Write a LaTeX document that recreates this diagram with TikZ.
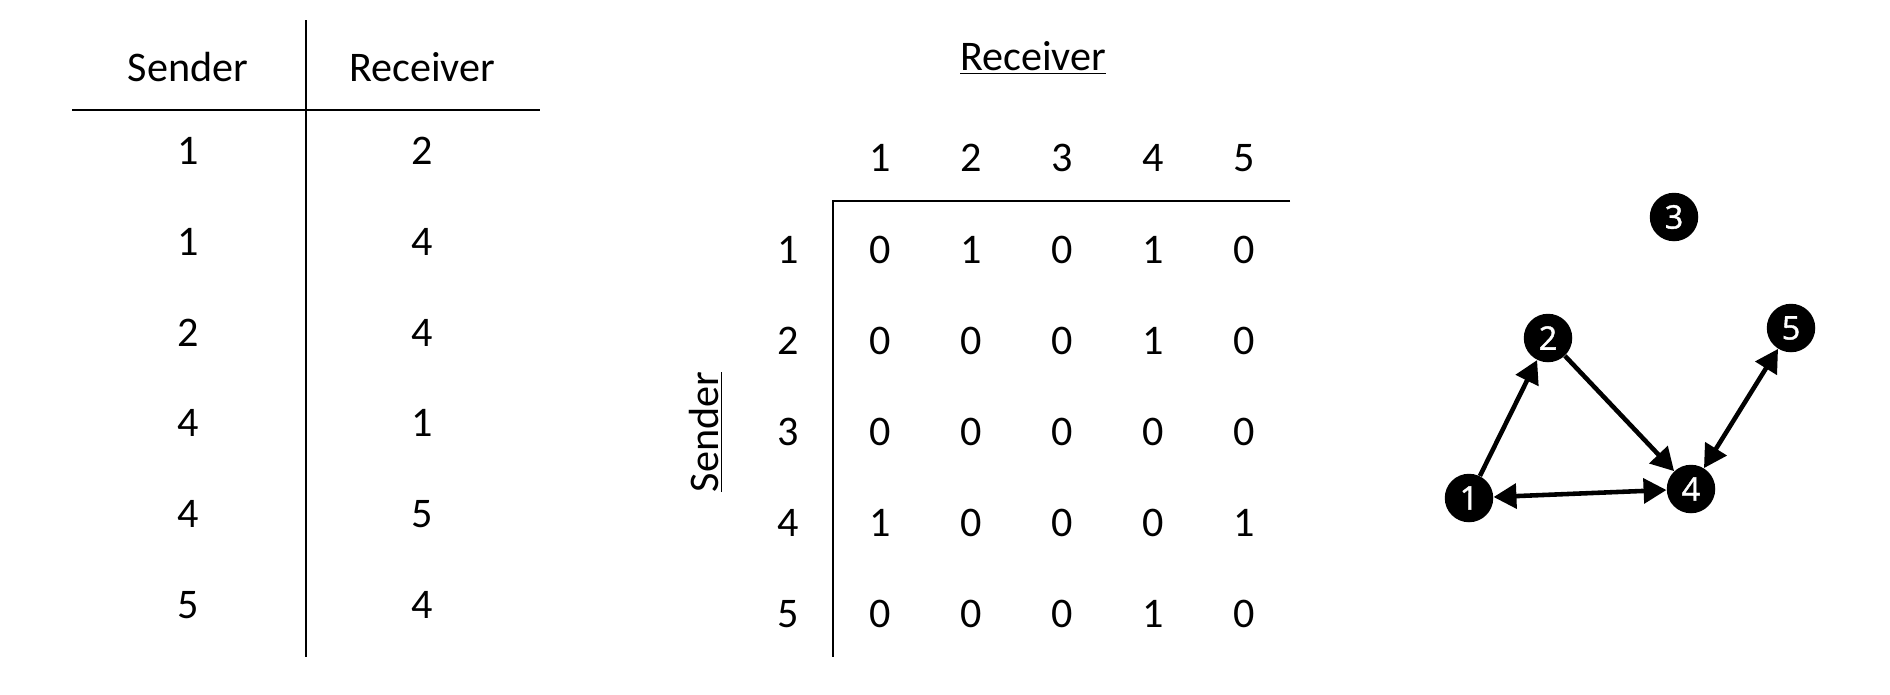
\documentclass[tikz,border=0pt]{standalone}
\usepackage{fontspec}
\setmainfont{Carlito}
\newfontfamily\vertexfont{Open Sans}[FakeBold=1.2]
\usetikzlibrary{arrows.meta}

\begin{document}
\begin{tikzpicture}[x=0.02cm,y=-0.02cm,
    every node/.style={font=\fontsize{24}{28}\selectfont,inner sep=0pt},
    rule line/.style={line width=1.5pt},
    vertex node/.style={circle,fill=black,minimum size=0.97cm,inner sep=0pt,text=white,font=\vertexfont\fontsize{18.5}{20}\selectfont},
    link/.style={line width=2.6pt,-{Triangle[length=13pt,width=14pt]}},
    both link/.style={link,{Triangle[length=13pt,width=14pt]}-{Triangle[length=13pt,width=14pt]}}]

    \useasboundingbox (0,0) rectangle (1890,694);

    % edge list
    \node (sender head) at (188,67) {Sender};
    \node (receiver head) at (422,67) {Receiver};
    \coordinate (list top) at (306,20);
    \coordinate (list bottom) at (306,657);
    \coordinate (list left) at (72,110);
    \coordinate (list right) at (540,110);
    \draw[rule line] (list top) -- (list bottom);
    \draw[rule line] (list left) -- (list right);
    \foreach \s/\r [count=\i from 0] in {1/2,1/4,2/4,4/1,4/5,5/4} {
        \node (snd \i) at (188,151+90.8*\i) {\s};
        \node (rcv \i) at (422,151+90.8*\i) {\r};
    }

    % adjacency matrix
    \node (matrix receiver) at (1033,58) {\underline{Receiver}};
    \node[rotate=90] (matrix sender) at (706,432) {\underline{Sender}};
    \foreach \c in {1,...,5} {
        \node (col \c) at (880+91*\c-91,158) {\c};
        \node (row \c) at (788,250+91*\c-91) {\c};
    }
    \foreach \vals [count=\r] in {{0,1,0,1,0},{0,0,0,1,0},{0,0,0,0,0},{1,0,0,0,1},{0,0,0,1,0}} {
        \foreach \v [count=\c] in \vals {
            \node (cell \r\c) at (880+91*\c-91,250+91*\r-91) {\v};
        }
    }
    \coordinate (matrix corner) at (833,201);
    \coordinate (matrix right) at (1290,201);
    \coordinate (matrix bottom) at (833,657);
    \draw[rule line] (matrix right) -- (matrix corner) -- (matrix bottom);

    % network
    \node[vertex node] (1) at (1469,498) {1};
    \node[vertex node] (2) at (1548,338) {2};
    \node[vertex node] (3) at (1674,217) {3};
    \node[vertex node] (4) at (1691,489) {4};
    \node[vertex node] (5) at (1791,328) {5};

    \draw[link] (1) -- (2);
    \draw[link] (2) -- (4);
    \draw[both link] (1) -- (4);
    \draw[both link] (4) -- (5);
\end{tikzpicture}
\end{document}
